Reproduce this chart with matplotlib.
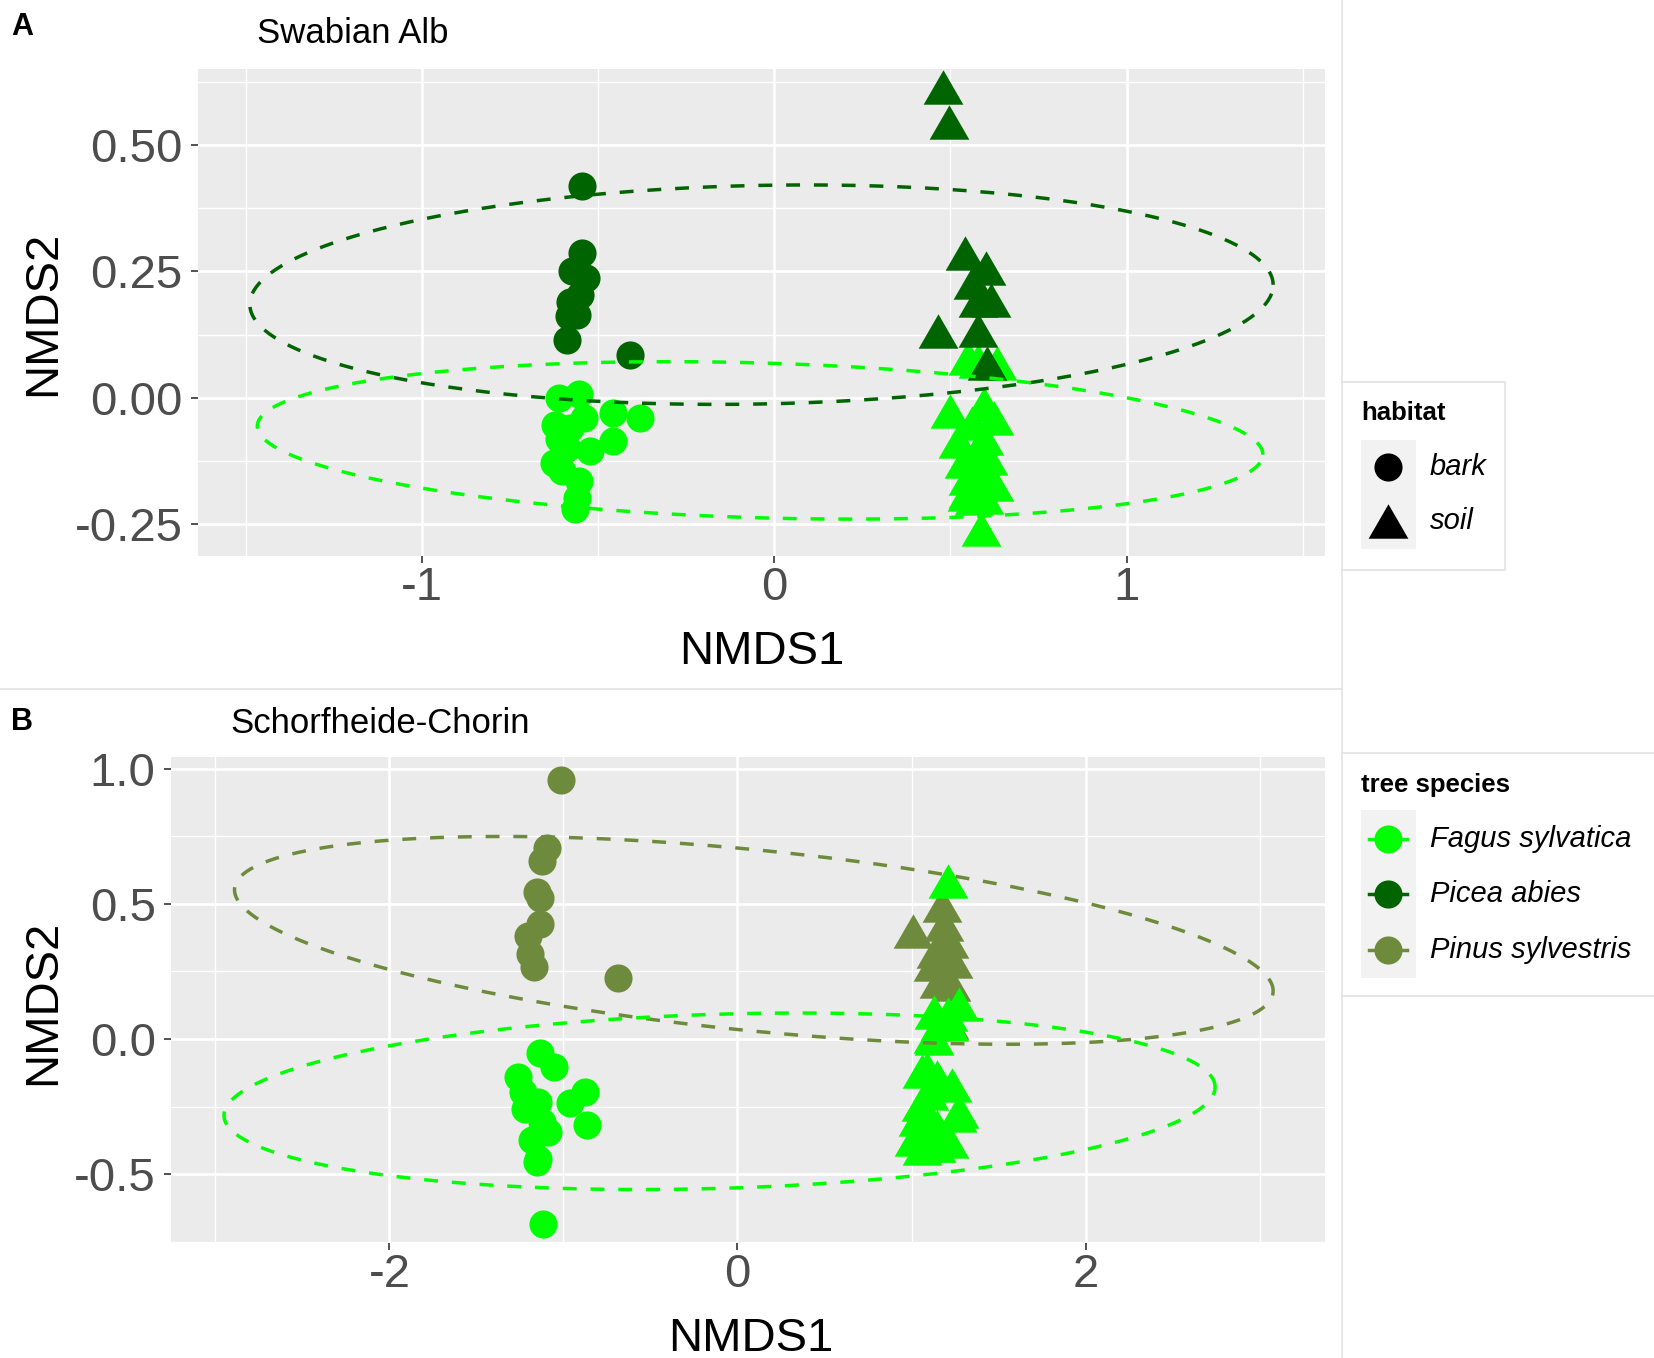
import numpy as np
import matplotlib.pyplot as plt

plt.rcParams['font.family'] = ['Liberation Sans', 'DejaVu Sans']
plt.rcParams['lines.scale_dashes'] = False

# ---- data ----
species = ['Fagus sylvatica', 'Picea abies', 'Pinus sylvestris']
species_colors = {'Fagus sylvatica': '#00FF00', 'Picea abies': '#006400', 'Pinus sylvestris': '#6E8B3D'}
habitats = ['bark', 'soil']

# panel A: Swabian Alb
a_fagus_bark_x = [-0.612, -0.555, -0.541, -0.456, -0.380, -0.621, -0.579, -0.612, -0.456, -0.588, -0.522, -0.626, -0.602, -0.555, -0.560, -0.564]
a_fagus_bark_y = [0.000, 0.007, -0.040, -0.030, -0.040, -0.053, -0.059, -0.082, -0.086, -0.099, -0.105, -0.128, -0.145, -0.164, -0.197, -0.220]
a_picea_bark_x = [-0.545, -0.545, -0.574, -0.533, -0.550, -0.578, -0.560, -0.583, -0.588, -0.408]
a_picea_bark_y = [0.419, 0.286, 0.250, 0.237, 0.204, 0.190, 0.164, 0.161, 0.115, 0.085]
a_fagus_soil_x = [0.578, 0.549, 0.631, 0.500, 0.596, 0.625, 0.560, 0.521, 0.596, 0.580, 0.606, 0.540,
                  0.551, 0.613, 0.587, 0.549, 0.546, 0.625, 0.594, 0.568, 0.587]
a_fagus_soil_y = [0.072, 0.079, 0.068, -0.026, -0.013, -0.039, -0.050, -0.086, -0.079, -0.100, -0.118, -0.125,
                  -0.159, -0.161, -0.165, -0.184, -0.189, -0.171, -0.195, -0.197, -0.260]
a_picea_soil_x = [0.478, 0.497, 0.542, 0.601, 0.563, 0.579, 0.615, 0.464, 0.578, 0.604]
a_picea_soil_y = [0.615, 0.545, 0.286, 0.257, 0.230, 0.194, 0.194, 0.132, 0.135, 0.069]

# panel B: Schorfheide-Chorin
b_pinus_bark_x = [-1.015, -1.096, -1.125, -1.153, -1.134, -1.134, -1.201, -1.192, -1.172, -0.684]
b_pinus_bark_y = [0.957, 0.707, 0.660, 0.542, 0.523, 0.424, 0.381, 0.313, 0.266, 0.224]
b_fagus_bark_x = [-1.134, -1.057, -1.259, -0.875, -0.962, -1.230, -1.220, -1.144, -1.125, -0.866, -1.086, -1.182, -1.144, -1.153, -1.115]
b_fagus_bark_y = [-0.052, -0.102, -0.139, -0.195, -0.238, -0.195, -0.257, -0.232, -0.306, -0.318, -0.343, -0.374, -0.442, -0.455, -0.684]
b_pinus_soil_x = [1.174, 1.006, 1.188, 1.217, 1.140, 1.236, 1.121, 1.226, 1.160, 1.217]
b_pinus_soil_y = [0.494, 0.400, 0.426, 0.364, 0.327, 0.290, 0.278, 0.204, 0.216, 0.062]
b_fagus_soil_x = [1.207, 1.274, 1.130, 1.207, 1.165, 1.217, 1.121, 1.127, 1.088, 1.063, 1.146, 1.159, 1.232,
                  1.054, 1.102, 1.274, 1.261, 1.040, 1.102, 1.146, 1.025, 1.012, 1.217, 1.140, 1.136, 1.063]
b_fagus_soil_y = [0.583, 0.130, 0.099, 0.092, 0.058, 0.055, 0.012, 0.003, -0.109, -0.118, -0.140, -0.155, -0.170,
                  -0.241, -0.200, -0.266, -0.281, -0.294, -0.290, -0.325, -0.365, -0.368, -0.377, -0.390, -0.393, -0.402]

# stat_ellipse results: centre x, centre y, semi-major, semi-minor, angle (deg)
a_ellipses = {'Picea abies': (-0.036, 0.204, 1.452, 0.216, 0.77),
              'Fagus sylvatica': (-0.040, -0.084, 1.427, 0.153, -1.14)}
b_ellipses = {'Pinus sylvestris': (0.094, 0.365, 2.99, 0.335, -3.63),
              'Fagus sylvatica': (-0.103, -0.230, 2.848, 0.322, 1.07)}

a_xticks = [-1, 0, 1]
a_xticklabels = ['-1', '0', '1']
a_yticks = [-0.25, 0.0, 0.25, 0.5]
a_yticklabels = ['-0.25', '0.00', '0.25', '0.50']
b_xticks = [-2, 0, 2]
b_xticklabels = ['-2', '0', '2']
b_yticks = [-0.5, 0.0, 0.5, 1.0]
b_yticklabels = ['-0.5', '0.0', '0.5', '1.0']

W, H = 1654, 1358
fig = plt.figure(figsize=(W / 100, H / 100), dpi=100)

# equilateral triangle like ggplot shape 17
tri = [(0, 0.433), (-0.5, -0.433), (0.5, -0.433)]
CIRCLE_S = 410
TRI_S = 820


def px_axes(left, top, right, bottom):
    return fig.add_axes([left / W, 1 - bottom / H, (right - left) / W, (bottom - top) / H])


def style_axes(ax, xlim, ylim, xticks, xlabels, yticks, ylabels, xminor, yminor):
    ax.set_facecolor('#EBEBEB')
    ax.set_xlim(xlim)
    ax.set_ylim(ylim)
    ax.set_xticks(xticks)
    ax.set_xticklabels(xlabels)
    ax.set_yticks(yticks)
    ax.set_yticklabels(ylabels)
    ax.set_xticks(xminor, minor=True)
    ax.set_yticks(yminor, minor=True)
    ax.grid(True, which='major', color='white', linewidth=1.9, zorder=0)
    ax.grid(True, which='minor', color='white', linewidth=1.0, zorder=0)
    ax.set_axisbelow(True)
    for s in ax.spines.values():
        s.set_visible(False)
    ax.tick_params(which='major', length=5, width=1.2, color='#333333', labelcolor='#4D4D4D', labelsize=34)
    ax.tick_params(axis='x', which='major', pad=2)
    ax.tick_params(axis='y', which='major', pad=6)
    ax.tick_params(which='minor', length=0)


def draw_ellipse(ax, params, color):
    cx, cy, a, b, ang = params
    t = np.linspace(0, 2 * np.pi, 400)
    th = np.deg2rad(ang)
    ex = cx + a * np.cos(t) * np.cos(th) - b * np.sin(t) * np.sin(th)
    ey = cy + a * np.cos(t) * np.sin(th) + b * np.sin(t) * np.cos(th)
    ax.plot(ex, ey, color=color, linewidth=2.5, dashes=(10, 10), zorder=5)


# ---- panel A ----
axA = px_axes(198, 69, 1325, 556)
style_axes(axA, (-1.635, 1.563), (-0.3125, 0.650), a_xticks, a_xticklabels, a_yticks, a_yticklabels,
           [-1.5, -0.5, 0.5, 1.5], [-0.125, 0.125, 0.375, 0.625])
axA.scatter(a_fagus_bark_x, a_fagus_bark_y, s=CIRCLE_S, c=species_colors['Fagus sylvatica'], marker='o', linewidths=0, zorder=3)
axA.scatter(a_picea_bark_x, a_picea_bark_y, s=CIRCLE_S, c=species_colors['Picea abies'], marker='o', linewidths=0, zorder=3)
axA.scatter(a_fagus_soil_x, a_fagus_soil_y, s=TRI_S, c=species_colors['Fagus sylvatica'], marker=tri, linewidths=0, zorder=3)
axA.scatter(a_picea_soil_x, a_picea_soil_y, s=TRI_S, c=species_colors['Picea abies'], marker=tri, linewidths=0, zorder=3)
for sp, p in a_ellipses.items():
    draw_ellipse(axA, p, species_colors[sp])

# ---- panel B ----
axB = px_axes(171, 757, 1325, 1243)
style_axes(axB, (-3.255, 3.376), (-0.754, 1.043), b_xticks, b_xticklabels, b_yticks, b_yticklabels,
           [-3, -1, 1, 3], [-0.75, -0.25, 0.25, 0.75])
axB.scatter(b_pinus_bark_x, b_pinus_bark_y, s=CIRCLE_S, c=species_colors['Pinus sylvestris'], marker='o', linewidths=0, zorder=3)
axB.scatter(b_fagus_bark_x, b_fagus_bark_y, s=CIRCLE_S, c=species_colors['Fagus sylvatica'], marker='o', linewidths=0, zorder=3)
axB.scatter(b_pinus_soil_x, b_pinus_soil_y, s=TRI_S, c=species_colors['Pinus sylvestris'], marker=tri, linewidths=0, zorder=3)
axB.scatter(b_fagus_soil_x, b_fagus_soil_y, s=TRI_S, c=species_colors['Fagus sylvatica'], marker=tri, linewidths=0, zorder=3)
for sp, p in b_ellipses.items():
    draw_ellipse(axB, p, species_colors[sp])

# ---- overlay: titles, axis titles, legends (pixel coordinates) ----
ov = fig.add_axes([0, 0, 1, 1])
ov.set_xlim(0, W)
ov.set_ylim(H, 0)
ov.axis('off')
ov.patch.set_visible(False)

ov.text(11, 35, 'A', fontsize=22, fontweight='bold', va='baseline')
ov.text(11, 730, 'B', fontsize=22, fontweight='bold', va='baseline')
ov.text(257, 43, 'Swabian Alb', fontsize=25, va='baseline')
ov.text(230, 733, 'Schorfheide-Chorin', fontsize=25, va='baseline')
ov.text(762, 664, 'NMDS1', fontsize=34, ha='center', va='baseline')
ov.text(751, 1351, 'NMDS1', fontsize=34, ha='center', va='baseline')
ov.text(55, 313, 'NMDS2', fontsize=34, ha='center', va='baseline', rotation=90, rotation_mode='anchor')
ov.text(55, 1002, 'NMDS2', fontsize=34, ha='center', va='baseline', rotation=90, rotation_mode='anchor')

# faint panel borders of the composite
border = '#E3E3E3'
ov.plot([1342, 1342], [0, H], color=border, linewidth=1.2)
ov.plot([0, 1342], [689, 689], color=border, linewidth=1.2)
ov.plot([1342, 1505, 1505, 1342], [382, 382, 570, 570], color=border, linewidth=1.2)
ov.plot([1342, W], [753, 753], color=border, linewidth=1.2)
ov.plot([1342, W], [996, 996], color=border, linewidth=1.2)

# habitat legend
ov.text(1361, 413, 'habitat', fontsize=18.5, fontweight='bold', va='center')
ov.add_patch(plt.Rectangle((1361, 440), 55, 109, facecolor='#F2F2F2', edgecolor='none'))
hab_y = [467, 521]
hab_markers = ['o', tri]
hab_sizes = [CIRCLE_S, TRI_S]
for h, yy, m, sz in zip(habitats, hab_y, hab_markers, hab_sizes):
    ov.scatter([1388], [yy], s=sz, c='black', marker=m, linewidths=0)
    ov.text(1430, yy, h, fontsize=21, style='italic', va='center')

# tree species legend
ov.text(1361, 785, 'tree species', fontsize=18.5, fontweight='bold', va='center')
ov.add_patch(plt.Rectangle((1361, 810), 55, 168, facecolor='#F2F2F2', edgecolor='none'))
sp_y = [839, 894, 950]
for sp, yy in zip(species, sp_y):
    ov.plot([1369, 1407], [yy, yy], color=species_colors[sp], linewidth=2.5)
    ov.scatter([1388], [yy], s=CIRCLE_S, c=species_colors[sp], marker='o', linewidths=0, zorder=3)
    ov.text(1430, yy, sp, fontsize=21, style='italic', va='center')

fig.savefig('out.png', dpi=100)
